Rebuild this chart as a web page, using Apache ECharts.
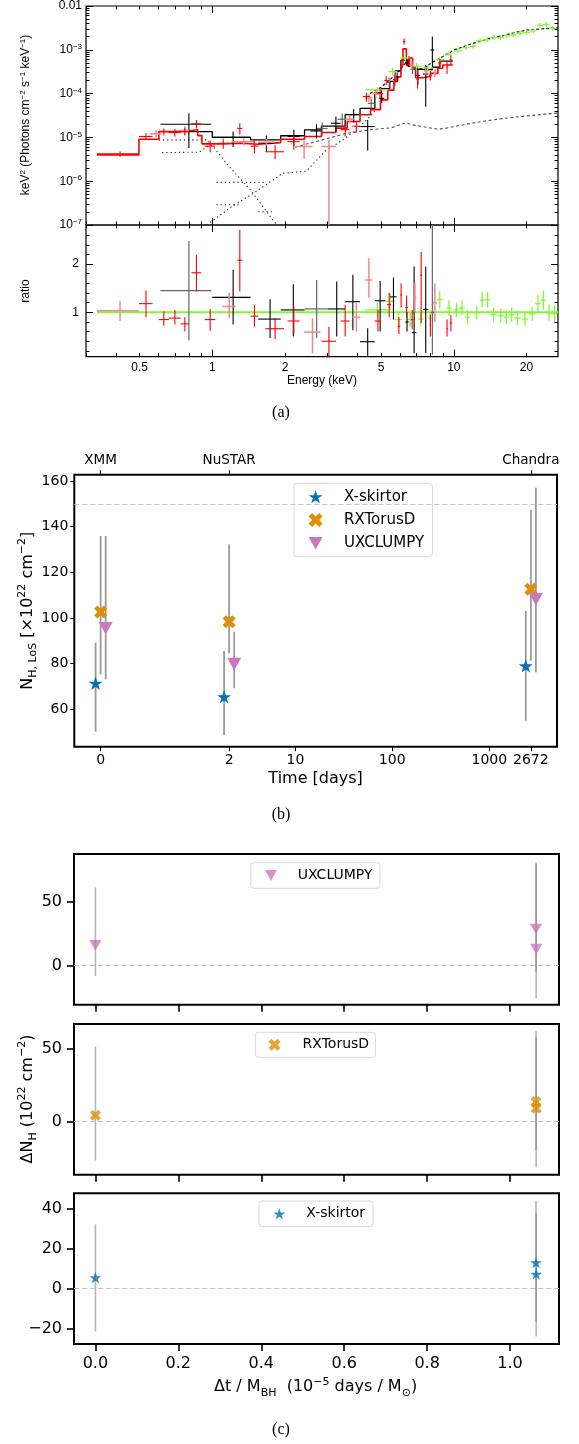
<!DOCTYPE html>
<html>
<head>
<meta charset="utf-8">
<script src="https://cdn.jsdelivr.net/npm/echarts@6/dist/echarts.min.js"></script>
<style>
  html, body { margin: 0; padding: 0; background: #fff; }
  #chart { width: 579px; height: 1444px; }
</style>
</head>
<body>
<div id="chart"></div>
<script>
const lg = Math.log10;

// ---------- panel (a): spectrum, energies in keV, fluxes in keV^2 ph/cm2/s/keV ----------
const pnModelEdges = [0.333, 0.497, 0.601, 0.70, 0.806, 0.87, 0.906, 1.108, 1.30, 1.55, 1.92, 2.41, 2.83, 3.25, 3.62, 4.09,
  4.52, 4.97, 5.33, 5.65, 5.85, 6.04, 6.16, 6.36, 6.55, 6.75, 6.95, 7.46, 8.01, 8.59, 9.0, 9.9];
const pnModelFlux = [4.0e-6, 9.1e-6, 1.36e-5, 1.42e-5, 1.5e-5, 1.1e-5, 7.1e-6, 7.4e-6, 7.0e-6, 7.6e-6, 9.1e-6, 1.05e-5,
  1.29e-5, 1.63e-5, 2.3e-5, 3.3e-5, 4.3e-5, 7.2e-5, 1.2e-4, 1.9e-4, 2.4e-4, 4.5e-4, 1.05e-3, 4.5e-4, 6.5e-4, 4.0e-4,
  2.3e-4, 2.5e-4, 2.9e-4, 3.8e-4, 4.5e-4];
const mosModelEdges = [0.60, 1.0, 1.44, 1.92, 2.41, 2.83, 3.55, 4.09, 4.71, 5.02, 5.43, 5.72, 6.04, 6.48, 6.85, 7.46, 8.15, 8.75, 9.9];
const mosModelFlux = [1.36e-5, 1.0e-5, 8.8e-6, 1.09e-5, 1.49e-5, 1.8e-5, 3.3e-5, 4.6e-5, 1.05e-4, 1.3e-4, 1.9e-4, 3.3e-4,
  5.8e-4, 4.2e-4, 3.6e-4, 3.5e-4, 4.0e-4, 5.5e-4];
const nuModel = [[4.5, 1.0e-4], [5.0, 1.4e-4], [5.5, 2.2e-4], [6.0, 3.5e-4], [6.4, 5.5e-4], [6.8, 4.0e-4], [7.5, 3.6e-4],
  [8.0, 4.9e-4], [9.0, 7.0e-4], [10, 9.9e-4], [12, 1.4e-3], [14, 1.8e-3], [16, 2.1e-3], [18, 2.5e-3], [20, 2.8e-3],
  [23, 3.0e-3], [27, 3.2e-3]];
const compSoftA = [[0.6, 8.8e-6], [0.95, 8.8e-6], [1.0, 6.5e-6], [1.17, 2.2e-6], [1.44, 6.3e-7], [1.8, 1.2e-7], [1.9, 9e-8]];
const compSoftB = [[0.62, 4.5e-6], [0.88, 4.6e-6], [0.95, 6.0e-6], [1.0, 8.0e-6]];
const compHard = [[0.95, 1.0e-7], [1.2, 2.6e-7], [1.49, 5.4e-7], [1.95, 1.5e-6], [2.45, 1.7e-6], [2.95, 5.0e-6],
  [3.5, 9.0e-6], [4.0, 1.6e-5], [4.5, 3.0e-5], [4.7, 4.0e-5]];
const compFragA = [[1.04, 9.4e-7], [1.66, 9.4e-7]];
const compFragB = [[1.04, 2.9e-7], [1.3, 2.9e-7]];
const compFragC = [[1.55, 2.0e-7], [1.8, 2.0e-7]];
const reflComp = [[2.2, 6.0e-6], [2.8, 8.5e-6], [3.5, 1.2e-5], [4.5, 1.5e-5], [5.5, 1.65e-5], [6.0, 1.95e-5], [6.35, 2.15e-5],
  [6.7, 1.95e-5], [7.3, 1.8e-5], [8.5, 1.55e-5], [9.2, 1.6e-5], [11, 1.95e-5], [13, 2.3e-5], [16, 2.7e-5], [20, 3.1e-5], [27, 3.6e-5]];

// data crosses: [Elo, Ehi, value, low, high]
const pnSpec = [
  [0.333, 0.497, 4.2e-6, 3.6e-6, 4.8e-6], [0.497, 0.566, 1.05e-5, 8.8e-6, 1.25e-5], [0.601, 0.66, 1.36e-5, 1.1e-5, 1.6e-5],
  [0.66, 0.74, 1.29e-5, 1.05e-5, 1.55e-5], [0.74, 0.80, 1.36e-5, 1.1e-5, 1.65e-5], [0.82, 0.90, 2.04e-5, 1.6e-5, 2.5e-5],
  [0.93, 1.03, 6.3e-6, 4.6e-6, 8.5e-6], [1.05, 1.17, 7.3e-6, 5.5e-6, 9.5e-6], [1.27, 1.33, 1.6e-5, 1.15e-5, 2.1e-5],
  [1.44, 1.55, 6.3e-6, 4.3e-6, 8.8e-6], [1.66, 1.98, 4.7e-6, 3.2e-6, 6.6e-6], [2.05, 2.3, 8.0e-6, 5.2e-6, 1.1e-5],
  [3.4, 3.7, 1.5e-5, 1.05e-5, 1.9e-5], [3.8, 4.1, 1.8e-5, 1.3e-5, 2.3e-5], [4.2, 4.5, 8.6e-5, 6.5e-5, 1.05e-4],
  [4.8, 5.1, 1.0e-4, 7.5e-5, 1.3e-4], [5.15, 5.35, 2.0e-4, 1.6e-4, 2.5e-4], [5.6, 5.8, 2.1e-4, 1.5e-4, 2.7e-4],
  [6.15, 6.3, 1.54e-3, 1.3e-3, 1.8e-3], [6.45, 6.6, 5.9e-4, 4.6e-4, 7.2e-4], [7.0, 7.15, 2.1e-4, 1.3e-4, 3.0e-4],
  [7.9, 8.1, 2.6e-4, 2.0e-4, 3.3e-4], [8.6, 8.9, 5.0e-4, 4.0e-4, 6.2e-4], [9.3, 9.45, 4.0e-4, 2.8e-4, 5.5e-4],
  [9.6, 9.85, 5.9e-4, 4.5e-4, 7.5e-4]
];
const pn2Spec = [
  [0.55, 0.62, 1.2e-5, 1.0e-5, 1.45e-5], [0.74, 0.80, 1.45e-5, 1.15e-5, 1.8e-5], [1.2, 1.5, 8.0e-6, 6.5e-6, 9.5e-6],
  [1.55, 1.8, 7.8e-6, 6.4e-6, 9.3e-6], [2.2, 2.6, 6.2e-6, 3.2e-6, 8.5e-6], [2.83, 3.25, 6.2e-6, 1e-8, 9.0e-6],
  [3.55, 3.85, 2.6e-5, 2.1e-5, 3.2e-5], [4.3, 4.6, 8.0e-5, 6.5e-5, 9.5e-5], [4.6, 4.9, 1.0e-4, 8.0e-5, 1.2e-4],
  [5.6, 5.8, 2.6e-4, 2.0e-4, 3.2e-4], [6.6, 6.8, 4.5e-4, 3.6e-4, 5.5e-4], [7.5, 7.8, 3.3e-4, 2.7e-4, 4.0e-4],
  [8.2, 8.5, 3.0e-4, 2.4e-4, 3.7e-4]
];
const mosSpec = [
  [0.61, 0.99, 2.0e-5, 5.7e-6, 3.57e-5], [1.0, 1.44, 1.0e-5, 6.0e-6, 1.36e-5], [1.55, 1.8, 7.4e-6, 4.7e-6, 1.1e-5],
  [2.05, 2.3, 1.05e-5, 6.5e-6, 1.5e-5], [2.55, 2.85, 1.4e-5, 9.5e-6, 2.0e-5], [3.1, 3.4, 2.1e-5, 1.35e-5, 3.0e-5],
  [3.7, 4.0, 3.3e-5, 2.2e-5, 4.4e-5], [4.1, 4.7, 1.77e-5, 5.0e-6, 2.5e-5], [4.9, 5.15, 7.8e-5, 6.0e-5, 1.0e-4],
  [5.7, 5.95, 2.4e-4, 1.9e-4, 3.0e-4], [6.3, 6.5, 5.0e-4, 4.2e-4, 6.0e-4], [6.95, 7.25, 2.6e-4, 1.6e-4, 3.6e-4],
  [7.45, 7.85, 2.8e-4, 5.0e-5, 4.5e-4], [8.0, 8.3, 9.9e-4, 4.1e-4, 2.0e-3]
];
const mos2Spec = [
  [2.7, 3.0, 1.6e-5, 1.1e-5, 2.2e-5], [3.3, 3.6, 2.6e-5, 1.8e-5, 3.5e-5], [4.4, 4.7, 6.0e-5, 4.5e-5, 7.5e-5],
  [5.3, 5.5, 1.8e-4, 1.4e-4, 2.3e-4], [6.6, 6.9, 3.6e-4, 2.8e-4, 4.5e-4]
];
const nuSpec = [
  [4.3, 5.35, 1.22e-4, 1.05e-4, 1.4e-4], [5.35, 5.8, 3.2e-4, 2.6e-4, 3.9e-4], [6.0, 6.6, 6.5e-4, 5.5e-4, 7.6e-4],
  [6.6, 7.4, 4.2e-4, 3.5e-4, 5.0e-4], [7.4, 8.2, 3.8e-4, 3.2e-4, 4.5e-4], [8.4, 9.1, 6.0e-4, 5.2e-4, 7.0e-4],
  [9.2, 9.9, 8.0e-4, 7.0e-4, 9.2e-4], [10.0, 10.8, 9.5e-4, 8.3e-4, 1.09e-3], [10.8, 11.6, 1.12e-3, 9.8e-4, 1.27e-3],
  [11.6, 12.4, 1.2e-3, 1.05e-3, 1.37e-3], [12.4, 13.3, 1.6e-3, 1.4e-3, 1.82e-3], [13.3, 14.2, 1.7e-3, 1.5e-3, 1.93e-3],
  [14.2, 15.1, 1.9e-3, 1.68e-3, 2.15e-3], [15.1, 16.1, 1.9e-3, 1.68e-3, 2.15e-3], [16.1, 17.1, 2.1e-3, 1.85e-3, 2.4e-3],
  [17.1, 18.2, 2.2e-3, 1.95e-3, 2.5e-3], [18.2, 19.4, 2.4e-3, 2.1e-3, 2.75e-3], [19.4, 20.7, 2.5e-3, 2.2e-3, 2.85e-3],
  [20.7, 22.0, 2.7e-3, 2.35e-3, 3.1e-3], [22.0, 23.4, 3.6e-3, 3.15e-3, 4.1e-3], [23.4, 24.9, 3.8e-3, 3.3e-3, 4.3e-3],
  [24.9, 26.5, 3.1e-3, 2.7e-3, 3.55e-3]
];

// ratio panel: [Elo, Ehi, ratio, low, high]
const pnRatio = [
  [0.497, 0.566, 1.18, 0.9, 1.45], [0.60, 0.66, 0.85, 0.72, 1.02], [0.66, 0.74, 0.88, 0.75, 1.05], [0.74, 0.80, 0.76, 0.6, 0.9],
  [0.82, 0.90, 1.82, 1.43, 2.19], [0.93, 1.03, 0.85, 0.62, 1.07], [1.27, 1.33, 2.08, 1.43, 2.71], [1.44, 1.55, 0.92, 0.7, 1.15],
  [1.66, 1.98, 0.66, 0.44, 0.88], [2.05, 2.3, 0.82, 0.55, 1.12], [2.83, 3.25, 0.40, 0.08, 0.7], [3.4, 3.7, 0.82, 0.5, 1.15],
  [4.7, 5.0, 0.82, 0.6, 1.05], [5.3, 5.5, 1.16, 0.9, 1.4], [5.85, 6.0, 0.71, 0.55, 0.9], [6.0, 6.1, 1.36, 1.1, 1.6],
  [6.3, 6.45, 1.1, 0.9, 1.35], [6.65, 6.8, 0.85, 0.65, 1.05], [7.25, 7.4, 1.77, 0.78, 2.25], [7.95, 8.05, 0.73, 0.5, 0.95],
  [9.3, 9.45, 0.66, 0.5, 0.85], [9.6, 9.85, 0.78, 0.6, 0.95]
];
const pn2Ratio = [
  [0.333, 0.497, 1.03, 0.82, 1.24], [1.1, 1.25, 1.12, 0.88, 1.4], [2.4, 2.8, 0.59, 0.15, 0.88], [3.8, 4.1, 0.9, 0.6, 1.2],
  [4.3, 4.6, 1.67, 1.3, 2.12], [6.8, 7.0, 1.3, 1.0, 1.6], [8.2, 8.5, 1.2, 0.8, 1.6]
];
const mosRatio = [
  [1.0, 1.44, 1.31, 0.75, 1.88], [1.55, 1.92, 0.86, 0.47, 1.27], [1.92, 2.41, 1.05, 0.5, 1.58], [3.0, 3.55, 1.07, 0.5, 1.64],
  [3.55, 4.09, 1.22, 0.63, 1.78], [4.09, 4.71, 0.39, 0.1, 0.67], [4.71, 5.2, 1.24, 0.6, 1.65], [5.45, 5.8, 1.32, 0.85, 1.72],
  [6.3, 6.5, 0.8, 0.6, 1.0], [6.7, 7.0, 0.58, 0.15, 1.95], [7.45, 7.85, 1.06, 0.15, 1.95]
];
const mos2Ratio = [
  [0.61, 0.99, 1.45, 0.42, 2.48], [2.41, 3.0, 1.07, 0.47, 1.67], [8.0, 8.3, 1.0, 0.12, 3.0]
];
const nuRatio = [
  [4.3, 5.35, 1.05, 0.9, 1.2], [5.2, 5.7, 1.23, 1.05, 1.4], [5.7, 6.1, 0.85, 0.7, 1.0], [6.4, 6.8, 0.85, 0.7, 1.0],
  [7.1, 7.5, 0.86, 0.72, 1.0], [7.8, 8.2, 0.88, 0.74, 1.02], [8.5, 9.0, 1.26, 1.08, 1.44], [9.3, 9.8, 1.09, 0.93, 1.25],
  [10.0, 10.5, 1.05, 0.9, 1.2], [10.5, 11.1, 1.09, 0.94, 1.24], [11.1, 11.7, 0.9, 0.76, 1.04], [12.1, 12.8, 0.99, 0.85, 1.13],
  [12.8, 13.4, 1.25, 1.1, 1.42], [13.4, 14.2, 1.26, 1.1, 1.42], [14.2, 15.0, 0.95, 0.8, 1.1], [15.2, 16.1, 0.93, 0.78, 1.08],
  [16.1, 16.9, 0.9, 0.76, 1.04], [16.9, 17.8, 0.95, 0.8, 1.1], [17.8, 18.9, 0.88, 0.74, 1.02], [19.1, 20.3, 0.86, 0.72, 1.0],
  [20.5, 21.7, 0.97, 0.82, 1.12], [21.7, 22.9, 1.18, 1.0, 1.36], [22.9, 24.1, 1.25, 1.05, 1.45], [24.1, 25.5, 0.99, 0.82, 1.16],
  [25.5, 26.8, 0.97, 0.8, 1.14]
];

// ---------- panel (b): line-of-sight column density ----------
const missions = ['XMM', 'NuSTAR', 'Chandra'];
const obsDays = [0, 2, 2672];
const timeTicks = [0, 2, 10, 100, 1000, 2672];
const nhSkirtor = [71.4, 65.5, 79.0];
const nhSkirtorLo = [50.2, 48.7, 54.9];
const nhSkirtorHi = [89.2, 85.5, 103.1];
const nhRxtorus = [102.6, 98.4, 112.6];
const nhRxtorusLo = [75.3, 84.5, 81.3];
const nhRxtorusHi = [135.9, 132.3, 147.3];
const nhUxclumpy = [95.5, 79.8, 108.2];
const nhUxclumpyLo = [73.1, 69.2, 76.2];
const nhUxclumpyHi = [135.9, 94.0, 157.1];

// ---------- panel (c): change in NH vs time per black-hole mass ----------
const dtPerMass = [0.0, 1.0625, 1.063];
const dnUx = [16.0, 28.8, 13.1];
const dnUxLo = [-8.1, -4.7, -25.6];
const dnUxHi = [61.3, 81.2, 79.5];
const dnRx = [4.4, 13.7, 9.2];
const dnRxLo = [-26.7, -19.4, -31.2];
const dnRxHi = [51.4, 62.1, 58.0];
const dnSk = [5.5, 13.0, 7.3];
const dnSkLo = [-21.5, -16.5, -24.0];
const dnSkHi = [32.2, 44.0, 37.7];

// ---------- helpers ----------
const FA = 'Liberation Sans, Arial, sans-serif';
const FB = 'DejaVu Sans, sans-serif';
const FS = 'Liberation Serif, Times New Roman, serif';
const STAR = 'path://M50,0 L61.23,34.55 L97.55,34.55 L68.17,55.9 L79.39,90.45 L50,69.1 L20.61,90.45 L31.83,55.9 L2.45,34.55 L38.77,34.55 Z';
const XMARK = 'path://M0,25 L25,0 L50,25 L75,0 L100,25 L75,50 L100,75 L75,100 L50,75 L25,100 L0,75 L25,50 Z';
const TRI_DOWN = 'path://M0,0 L100,0 L50,90 Z';
const C_BLUE = '#0173b2', C_ORANGE = '#de8f05', C_PINK = '#cc78bc';

const T0 = 0.1;      // day 0 is drawn at 0.1 d on the log time axis
const DODGE = 0.052; // horizontal dodge between models, in decades
const tPos = t => lg(t + T0);

function stepData(edges, vals) {
  const d = vals.map((v, i) => [lg(edges[i]), lg(v)]);
  d.push([lg(edges[edges.length - 1]), lg(vals[vals.length - 1])]);
  return d;
}
function curve(points, color, dash, width, xi, yi) {
  return {
    type: 'line', xAxisIndex: xi, yAxisIndex: yi, data: points.map(p => [lg(p[0]), lg(p[1])]),
    symbol: 'none', silent: true, z: 2, lineStyle: { color: color, width: width, type: dash }
  };
}
function stepLine(edges, vals, color, width) {
  return {
    type: 'line', step: 'end', xAxisIndex: 0, yAxisIndex: 0, data: stepData(edges, vals),
    symbol: 'none', silent: true, z: 3, lineStyle: { color: color, width: width }
  };
}
function crossItem(color, width) {
  return function (params, api) {
    const cs = params.coordSys;
    const cx = v => Math.max(cs.x, Math.min(cs.x + cs.width, v));
    const cy = v => Math.max(cs.y, Math.min(cs.y + cs.height, v));
    const a = api.coord([api.value(0), api.value(3)]);
    const b = api.coord([api.value(1), api.value(3)]);
    const lo = api.coord([api.value(2), api.value(4)]);
    const hi = api.coord([api.value(2), api.value(5)]);
    const st = { stroke: color, lineWidth: width };
    return {
      type: 'group', children: [
        { type: 'line', shape: { x1: cx(a[0]), y1: cy(a[1]), x2: cx(b[0]), y2: cy(b[1]) }, style: st },
        { type: 'line', shape: { x1: cx(lo[0]), y1: cy(lo[1]), x2: cx(hi[0]), y2: cy(hi[1]) }, style: st }
      ]
    };
  };
}
function crosses(rows, color, width, xi, yi, logY) {
  const f = logY ? lg : (v => v);
  return {
    type: 'custom', xAxisIndex: xi, yAxisIndex: yi, silent: true, z: 4,
    data: rows.map(r => [lg(r[0]), lg(r[1]), lg((r[0] + r[1]) / 2), f(r[2]), f(r[3]), f(r[4])]),
    renderItem: crossItem(color, width)
  };
}
function errItem(color, width) {
  return function (params, api) {
    const p = api.coord([api.value(0), api.value(1)]);
    const q = api.coord([api.value(0), api.value(2)]);
    return { type: 'line', shape: { x1: p[0], y1: p[1], x2: q[0], y2: q[1] }, style: { stroke: color, lineWidth: width } };
  };
}
function errBars(xs, lo, hi, color, width, xi, yi) {
  return {
    type: 'custom', xAxisIndex: xi, yAxisIndex: yi, silent: true, z: 2,
    data: xs.map((x, i) => [x, lo[i], hi[i]]), renderItem: errItem(color, width)
  };
}
function tickAxis(grid, pos, min, max, ticks, len, extra) {
  return Object.assign({
    type: 'value', gridIndex: grid, position: pos, min: min, max: max,
    axisLine: { show: false, onZero: false },
    axisTick: { show: true, inside: true, length: len, customValues: ticks, lineStyle: { color: '#000', width: 1 } },
    axisLabel: { show: false },
    splitLine: { show: false }
  }, extra || {});
}

// ---------- axes ----------
const xMinA = lg(0.3), xMaxA = lg(27);
const minorX = [], minorY = [], majorY = [];
[-1, 0, 1].forEach(n => { for (let k = 1; k <= 9; k++) { const v = k * Math.pow(10, n); if (v >= 0.3 && v <= 27) minorX.push(lg(v)); } });
for (let n = -7; n <= -3; n++) { majorY.push(n); for (let k = 1; k <= 9; k++) minorY.push(lg(k) + n); }
majorY.push(-2); minorY.push(-2);
const majorX = [0, 1];
const energyLabels = [0.5, 1, 2, 5, 10, 20].map(lg);
const ratioMinor = [];
for (let i = 1; i <= 14; i++) ratioMinor.push(i / 5);
const ratioMajor = [1, 2];
const rMin = 0.08, rMax = 2.81;

const supRich = {
  b: { fontFamily: FA, fontSize: 12, color: '#000', lineHeight: 14 },
  s: { fontFamily: FA, fontSize: 8, color: '#000', lineHeight: 14, verticalAlign: 'top' }
};

const timeLab = {};
timeTicks.forEach(d => { timeLab[tPos(d).toFixed(6)] = String(d); });
const missionLab = {};
obsDays.forEach((d, i) => { missionLab[tPos(d).toFixed(6)] = missions[i]; });
const minus = v => (v < 0 ? '\u2212' + (-v) : String(v));

const cTickX = [0, 0.2, 0.4, 0.6, 0.8, 1.0];
const cXMin = -0.0516, cXMax = 1.118;

// xAxis indices: 0-7 panel (a), 8 (b) bottom, 9 (b) top, 10-12 panel (c)
const xAxes = [
  tickAxis(0, 'bottom', xMinA, xMaxA, minorX, 3.5),
  tickAxis(0, 'top', xMinA, xMaxA, minorX, 3.5),
  tickAxis(1, 'bottom', xMinA, xMaxA, minorX, 3.5, {
    axisLabel: { show: true, customValues: energyLabels, margin: 5, fontFamily: FA, fontSize: 12, color: '#000',
      formatter: v => String(Math.round(Math.pow(10, v) * 10) / 10) }
  }),
  tickAxis(1, 'top', xMinA, xMaxA, minorX, 3.5),
  tickAxis(2, 'bottom', xMinA, xMaxA, majorX, 7),
  tickAxis(2, 'top', xMinA, xMaxA, majorX, 7),
  tickAxis(3, 'bottom', xMinA, xMaxA, majorX, 7),
  tickAxis(3, 'top', xMinA, xMaxA, majorX, 7),
  tickAxis(4, 'bottom', -1.271, 3.696, timeTicks.map(tPos), 4.5, {
    axisTick: { show: true, inside: false, length: 4.5, customValues: timeTicks.map(tPos), lineStyle: { color: '#000', width: 1 } },
    axisLabel: { show: true, customValues: timeTicks.map(tPos), margin: 7, fontFamily: FB, fontSize: 14, color: '#000',
      formatter: v => timeLab[v.toFixed(6)] || '' }
  }),
  tickAxis(4, 'top', -1.271, 3.696, obsDays.map(tPos), 4.5, {
    axisTick: { show: true, inside: false, length: 4.5, customValues: obsDays.map(tPos), lineStyle: { color: '#000', width: 1 } },
    axisLabel: { show: true, customValues: obsDays.map(tPos), margin: 7, fontFamily: FB, fontSize: 13.5, color: '#000',
      formatter: v => missionLab[v.toFixed(6)] || '' }
  })
];
[5, 6, 7].forEach(g => {
  xAxes.push(tickAxis(g, 'bottom', cXMin, cXMax, cTickX, 7, {
    axisTick: { show: true, inside: false, length: 7, customValues: cTickX, lineStyle: { color: '#000', width: 1.6 } },
    axisLabel: { show: g === 7, customValues: cTickX, margin: 12, fontFamily: FB, fontSize: 16, color: '#000',
      formatter: v => v.toFixed(1) }
  }));
});

// yAxis indices: 0-7 panel (a), 8 (b), 9-11 panel (c)
const yAxes = [
  tickAxis(0, 'left', -7, -2, minorY, 3.5, {
    axisLabel: { show: true, customValues: majorY, margin: 4, rich: supRich,
      formatter: v => (Math.round(v) === -2 ? '{b|0.01}' : '{b|10}{s|\u2212' + (-Math.round(v)) + '}') }
  }),
  tickAxis(0, 'right', -7, -2, minorY, 3.5),
  tickAxis(1, 'left', rMin, rMax, ratioMinor, 3.5, {
    axisLabel: { show: true, customValues: ratioMajor, margin: 7, fontFamily: FA, fontSize: 12, color: '#000' }
  }),
  tickAxis(1, 'right', rMin, rMax, ratioMinor, 3.5),
  tickAxis(2, 'left', -7, -2, majorY, 7),
  tickAxis(2, 'right', -7, -2, majorY, 7),
  tickAxis(3, 'left', rMin, rMax, ratioMajor, 7),
  tickAxis(3, 'right', rMin, rMax, ratioMajor, 7),
  tickAxis(4, 'left', 43.6, 162.8, [60, 80, 100, 120, 140, 160], 4, {
    axisTick: { show: true, inside: false, length: 4, customValues: [60, 80, 100, 120, 140, 160], lineStyle: { color: '#000', width: 1 } },
    axisLabel: { show: true, customValues: [60, 80, 100, 120, 140, 160], margin: 6, fontFamily: FB, fontSize: 14, color: '#000' }
  })
];
[[5, -30.6, 87.7, [0, 50]], [6, -36.3, 66.9, [0, 50]], [7, -27.7, 47.7, [-20, 0, 20, 40]]].forEach(c => {
  yAxes.push(tickAxis(c[0], 'left', c[1], c[2], c[3], 7, {
    axisTick: { show: true, inside: false, length: 7, customValues: c[3], lineStyle: { color: '#000', width: 1.6 } },
    axisLabel: { show: true, customValues: c[3], margin: 12, fontFamily: FB, fontSize: 16, color: '#000', formatter: minus }
  }));
});

const frameA = { show: true, borderColor: '#000', borderWidth: 1.2, backgroundColor: 'transparent', outerBoundsMode: 'none' };
const frameB = { show: true, borderColor: '#000', borderWidth: 2, backgroundColor: 'transparent', outerBoundsMode: 'none' };
const overlay = { show: false, outerBoundsMode: 'none' };
const grids = [
  Object.assign({ left: 86, top: 6, width: 472, height: 219 }, frameA),
  Object.assign({ left: 86, top: 225, width: 472, height: 131.7 }, frameA),
  Object.assign({ left: 86, top: 6, width: 472, height: 219 }, overlay),
  Object.assign({ left: 86, top: 225, width: 472, height: 131.7 }, overlay),
  Object.assign({ left: 74.3, top: 474.7, width: 482.7, height: 272 }, frameB),
  Object.assign({ left: 74, top: 854, width: 485, height: 150.7 }, frameB),
  Object.assign({ left: 74, top: 1024, width: 485, height: 150.7 }, frameB),
  Object.assign({ left: 74, top: 1193.3, width: 485, height: 150.7 }, frameB)
];

// ---------- series ----------
const series = [
  curve(compSoftA, '#222', [1.2, 3], 1.1, 0, 0),
  curve(compSoftB, '#222', [1.2, 3], 1.1, 0, 0),
  curve(compHard, '#222', [1.2, 3], 1.1, 0, 0),
  curve(compFragA, '#222', [1.2, 3], 1.1, 0, 0),
  curve(compFragB, '#222', [1.2, 3], 1.1, 0, 0),
  curve(compFragC, '#222', [1.2, 3], 1.1, 0, 0),
  curve(reflComp, '#555', [3, 2.5], 1.1, 0, 0),
  curve(nuModel, '#222', [3, 2], 1.2, 0, 0),
  stepLine(mosModelEdges, mosModelFlux, '#000', 1.3),
  stepLine(pnModelEdges, pnModelFlux, '#ff0000', 1.6),
  crosses(nuSpec, '#86f43a', 1.3, 0, 0, true),
  crosses(mos2Spec, '#666', 1.2, 0, 0, true),
  crosses(mosSpec, '#000', 1.1, 0, 0, true),
  crosses(pn2Spec, '#f08a8a', 1.5, 0, 0, true),
  crosses(pnSpec, '#ff0000', 1.1, 0, 0, true),
  {
    type: 'line', xAxisIndex: 2, yAxisIndex: 2, data: [[lg(0.333), 1], [xMaxA, 1]],
    symbol: 'none', silent: true, z: 3, lineStyle: { color: '#86f43a', width: 2 }
  },
  crosses(nuRatio, '#86f43a', 1.3, 2, 2, false),
  crosses(mos2Ratio, '#666', 1.2, 2, 2, false),
  crosses(mosRatio, '#000', 1.1, 2, 2, false),
  crosses(pn2Ratio, '#f08a8a', 1.5, 2, 2, false),
  crosses(pnRatio, '#ff0000', 1.1, 2, 2, false)
];

// panel (b)
const bModels = [
  { name: 'X-skirtor', v: nhSkirtor, lo: nhSkirtorLo, hi: nhSkirtorHi, off: -DODGE, sym: STAR, size: 14, color: C_BLUE },
  { name: 'RXTorusD', v: nhRxtorus, lo: nhRxtorusLo, hi: nhRxtorusHi, off: 0, sym: XMARK, size: 13, color: C_ORANGE },
  { name: 'UXCLUMPY', v: nhUxclumpy, lo: nhUxclumpyLo, hi: nhUxclumpyHi, off: DODGE, sym: TRI_DOWN, size: 14, color: C_PINK }
];
bModels.forEach(m => {
  const xs = obsDays.map(d => tPos(d) + m.off);
  series.push(errBars(xs, m.lo, m.hi, '#9a9a9a', 1.8, 8, 8));
});
bModels.forEach((m, i) => {
  const xs = obsDays.map(d => tPos(d) + m.off);
  const s = {
    type: 'scatter', name: m.name, xAxisIndex: 8, yAxisIndex: 8, symbol: m.sym, symbolSize: m.size,
    symbolKeepAspect: true, z: 5, itemStyle: { color: m.color, opacity: 1 },
    data: xs.map((x, k) => [x, m.v[k]])
  };
  if (i === 0) {
    s.markLine = {
      silent: true, symbol: ['none', 'none'], label: { show: false },
      lineStyle: { type: [5, 3], color: '#c4c4c4', width: 1.2 }, data: [{ yAxis: 150 }]
    };
  }
  series.push(s);
});

// panel (c)
const cModels = [
  { name: 'c:UXCLUMPY', v: dnUx, lo: dnUxLo, hi: dnUxHi, sym: TRI_DOWN, size: 12, color: C_PINK, xi: 10, yi: 9 },
  { name: 'c:RXTorusD', v: dnRx, lo: dnRxLo, hi: dnRxHi, sym: XMARK, size: 11, color: C_ORANGE, xi: 11, yi: 10 },
  { name: 'c:X-skirtor', v: dnSk, lo: dnSkLo, hi: dnSkHi, sym: STAR, size: 12, color: C_BLUE, xi: 12, yi: 11 }
];
cModels.forEach(m => {
  series.push(errBars(dtPerMass, m.lo, m.hi, 'rgba(110,110,110,0.5)', 1.6, m.xi, m.yi));
  series.push({
    type: 'scatter', name: m.name, xAxisIndex: m.xi, yAxisIndex: m.yi, symbol: m.sym, symbolSize: m.size,
    symbolKeepAspect: true, z: 5, itemStyle: { color: m.color, opacity: 0.8 },
    data: dtPerMass.map((x, k) => [x, m.v[k]]),
    markLine: {
      silent: true, symbol: ['none', 'none'], label: { show: false },
      lineStyle: { type: [5, 3], color: '#c4c4c4', width: 1.2 }, data: [{ yAxis: 0 }]
    }
  });
});

// ---------- legends ----------
function legendBox(names, left, top, pad, gap, fontSize, textPad, lineH, icon) {
  return {
    data: names, left: left, top: top, orient: 'vertical', selectedMode: false,
    itemWidth: icon, itemHeight: icon, itemGap: gap, padding: pad,
    borderColor: '#d8d8d8', borderWidth: 1, borderRadius: 3, backgroundColor: 'rgba(255,255,255,0.85)',
    formatter: n => n.replace('c:', ''),
    textStyle: { fontFamily: FB, fontSize: fontSize, color: '#000', lineHeight: lineH, padding: [0, 0, 0, textPad] }
  };
}
const legends = [
  legendBox(['X-skirtor', 'RXTorusD', 'UXCLUMPY'], 294, 483.3, [5.4, 8.5, 5.4, 14.6], 7.3, 15, 16.4, 16, 14),
  legendBox(['c:UXCLUMPY'], 250.8, 862.7, [5.8, 7.4, 5.8, 14.2], 0, 14, 15.8, 14, 12),
  legendBox(['c:RXTorusD'], 255.3, 1032.3, [5.5, 6.3, 5.5, 13.2], 0, 14, 17.1, 14, 12),
  legendBox(['c:X-skirtor'], 259, 1201, [5.8, 7.9, 5.8, 14.3], 0, 14, 16, 14, 12)
];

// ---------- titles and captions ----------
function txt(x, y, text, font, size, rot, rich) {
  return {
    type: 'text', x: x, y: y, rotation: rot || 0, silent: true,
    style: { text: text, fontFamily: font, fontSize: size, fill: '#000', align: 'center', verticalAlign: 'middle', rich: rich }
  };
}
const richA = {
  t: { fontFamily: FA, fontSize: 12, fill: '#000', lineHeight: 14 },
  s: { fontFamily: FA, fontSize: 8, fill: '#000', lineHeight: 14, verticalAlign: 'top' }
};
const richB = {
  t: { fontFamily: FB, fontSize: 16, fill: '#000', lineHeight: 22 },
  sub: { fontFamily: FB, fontSize: 11, fill: '#000', lineHeight: 22, verticalAlign: 'bottom' },
  sup: { fontFamily: FB, fontSize: 11, fill: '#000', lineHeight: 22, verticalAlign: 'top' }
};
const graphics = [
  txt(26, 115, '{t|keV}{s|2}{t| (Photons cm}{s|\u22122}{t| s}{s|\u22121}{t| keV}{s|\u22121}{t|)}', FA, 12, Math.PI / 2, richA),
  txt(26, 291, 'ratio', FA, 12, Math.PI / 2),
  txt(322, 381, 'Energy (keV)', FA, 12),
  txt(281, 412.7, '(a)', FS, 16),
  txt(27.7, 610.7, '{t|N}{sub|H, LoS}{t| [\u00d710}{sup|22}{t| cm}{sup|\u22122}{t|]}', FB, 16, Math.PI / 2, richB),
  txt(315.6, 779, 'Time [days]', FB, 16),
  txt(281, 815, '(b)', FS, 16),
  txt(27.7, 1099, '{t|\u0394N}{sub|H}{t| (10}{sup|22}{t| cm}{sup|\u22122}{t|)}', FB, 16, Math.PI / 2, richB),
  txt(315.6, 1387.3, '{t|\u0394t / M}{sub|BH}{t|  (10}{sup|\u22125}{t| days / M}{sub|\u2299}{t|)}', FB, 16, 0, richB),
  txt(281, 1429.3, '(c)', FS, 16)
];

const chart = echarts.init(document.getElementById('chart'), null, { renderer: 'canvas' });
chart.setOption({
  animation: false,
  backgroundColor: '#fff',
  grid: grids,
  xAxis: xAxes,
  yAxis: yAxes,
  legend: legends,
  graphic: graphics,
  series: series
});
</script>
</body>
</html>
